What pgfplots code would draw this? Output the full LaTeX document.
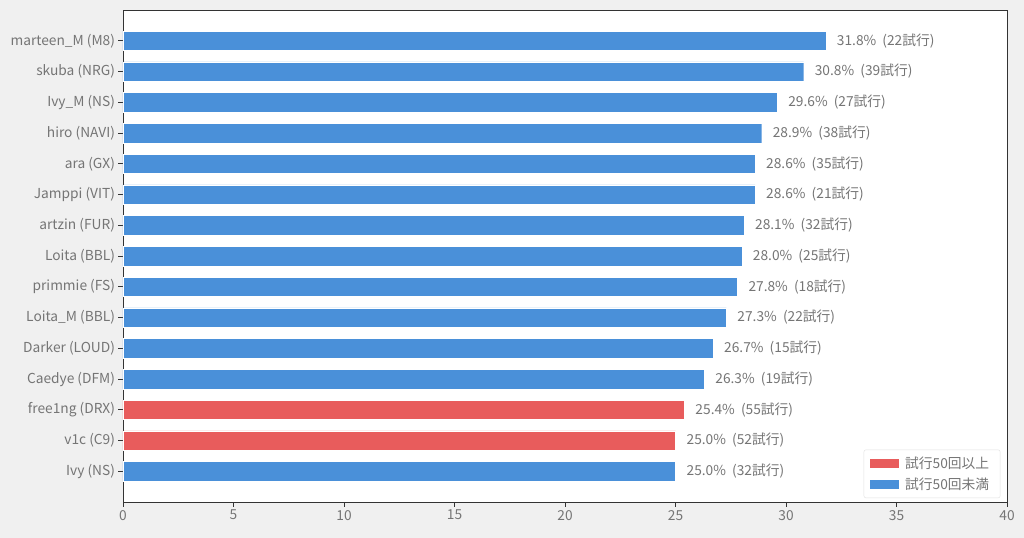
\documentclass[border=0pt]{standalone}
\usepackage{pgfplots}
\pgfplotsset{compat=1.18}
\usepackage{pgfplotstable}
\usepackage{fontspec}
\setmainfont{Noto Sans CJK JP}
\definecolor{bg}{HTML}{F0F0F0}
\definecolor{barblue}{HTML}{4A90D9}
\definecolor{barred}{HTML}{E85C5C}
\definecolor{txt}{HTML}{757575}
\definecolor{spine}{HTML}{333333}

\pgfplotstableread[col sep=comma]{
y,x,n
0,31.8,22
1,30.8,39
2,29.6,27
3,28.9,38
4,28.6,35
5,28.6,21
6,28.1,32
7,28.0,25
8,27.8,18
9,27.3,22
10,26.7,15
11,26.3,19
14,25.0,32
}\bluedata
\pgfplotstableread[col sep=comma]{
y,x,n
12,25.4,55
13,25.0,52
}\reddata

\begin{document}
\begin{tikzpicture}
\fill[bg] (-123bp,-36bp) rectangle (901bp,502bp);
\useasboundingbox (-123bp,-36bp) rectangle (901bp,502bp);
\begin{axis}[
  at={(0,0)}, anchor=south west,
  scale only axis, width=884bp, height=492bp,
  xmin=0, xmax=40, ymin=-1, ymax=15, y dir=reverse,
  axis background/.style={fill=white},
  axis line style={spine, line width=0.8pt},
  xtick={0,5,...,40},
  ytick={0,...,14},
  yticklabels={marteen\_M (M8),skuba (NRG),Ivy\_M (NS),hiro (NAVI),ara (GX),Jamppi (VIT),artzin (FUR),Loita (BBL),primmie (FS),Loita\_M (BBL),Darker (LOUD),Caedye (DFM),free1ng (DRX),v1c (C9),Ivy (NS)},
  tick align=outside, xtick pos=bottom, ytick pos=left,
  major tick length=4.5bp,
  tick style={spine, line width=0.8pt},
  ticklabel style={text=txt, font=\fontsize{13.8}{16}\selectfont},
  /pgf/number format/assume math mode=true,
  xbar, bar width=19.5bp, bar shift=0pt,
  point meta=explicit,
  nodes near coords={\pgfmathprintnumber[fixed,fixed zerofill,precision=1]{\pgfkeysvalueof{/data point/x}}\%\ \ (\pgfmathprintnumber{\pgfplotspointmeta}試行)},
  nodes near coords style={anchor=west, inner sep=0pt, xshift=11bp, text=txt, font=\fontsize{13.8}{16}\selectfont},
  legend style={at={(0.9925,0.008)}, anchor=south east, draw=black!12, rounded corners=2pt, fill=white, font=\fontsize{13.8}{16}\selectfont, text=txt, row sep=4pt, inner xsep=5pt, inner ysep=5pt, nodes={inner xsep=6pt}},
  legend cell align=left,
  legend image code/.code={\fill[#1, sharp corners] (0bp,-5bp) rectangle (30bp,5bp);},
]
\addplot[fill=barred, draw=white, line width=0.3pt] table[x=x, y=y, meta=n] {\reddata};
\addlegendentry{試行50回以上}
\addplot[fill=barblue, draw=white, line width=0.3pt] table[x=x, y=y, meta=n] {\bluedata};
\addlegendentry{試行50回未満}
\end{axis}
\end{tikzpicture}
\end{document}
